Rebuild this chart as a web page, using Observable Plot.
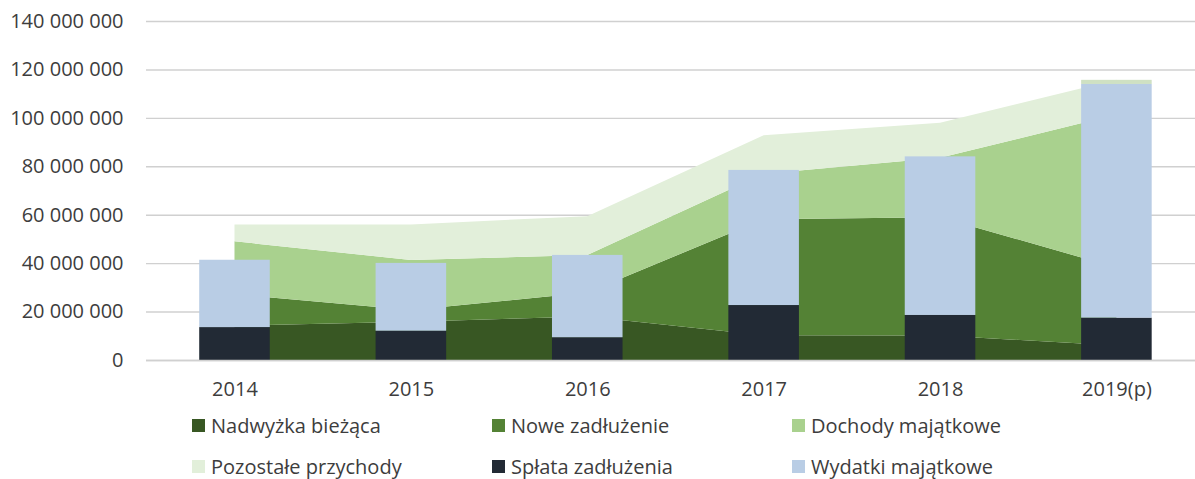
<!DOCTYPE html>
<html>
<head>
<meta charset="utf-8">
<script src="https://cdn.jsdelivr.net/npm/d3@7"></script>
<script src="https://cdn.jsdelivr.net/npm/@observablehq/plot@0.6"></script>
<style>
  body { margin: 0; background: #fff; font-family: "Open Sans", "Noto Sans", sans-serif; }
  #chart { width: 1195px; overflow: hidden; }
  .legend { display: grid; grid-template-columns: 300px 300px 300px; grid-auto-rows: 41px;
            margin-left: 192px; margin-top: 0px; font-size: 20px; color: #3d3d3d; }
  .legend div { display: flex; align-items: center; white-space: nowrap; }
  .legend span.sw { display: inline-block; width: 13px; height: 13px; margin-right: 6px; }
</style>
</head>
<body>
<div id="chart"></div>
<div class="legend" id="legend"></div>
<script>
// Categories
const years = ["2014", "2015", "2016", "2017", "2018", "2019(p)"];

// Area series (stacked), values in PLN
const nadwyzkaBiezaca   = [14.2e6, 15.8e6, 18.0e6, 10.2e6, 10.1e6, 6.0e6];
const noweZadluzenie    = [12.9e6, 4.8e6, 9.9e6, 47.9e6, 48.9e6, 32.2e6];
const dochodyMajatkowe  = [21.9e6, 20.7e6, 15.5e6, 18.8e6, 24.5e6, 63.2e6];
const pozostalePrzychody = [7.0e6, 14.7e6, 16.0e6, 15.9e6, 14.5e6, 14.3e6];

// Bar series (stacked)
const splataZadluzenia  = [13.6e6, 12.1e6, 9.4e6, 22.7e6, 18.6e6, 17.5e6];
const wydatkiMajatkowe  = [27.8e6, 28.0e6, 34.0e6, 55.8e6, 65.5e6, 96.5e6];

// Tick values
const yTicks = [0, 20e6, 40e6, 60e6, 80e6, 100e6, 120e6, 140e6];

// Series names (legend order) and colours
const areaNames = ["Nadwyżka bieżąca", "Nowe zadłużenie", "Dochody majątkowe", "Pozostałe przychody"];
const barNames = ["Spłata zadłużenia", "Wydatki majątkowe"];
const legendOrder = ["Nadwyżka bieżąca", "Nowe zadłużenie", "Dochody majątkowe",
                     "Pozostałe przychody", "Spłata zadłużenia", "Wydatki majątkowe"];
const colors = ["#385723", "#548235", "#a9d18e", "#e2efda", "#222a35", "#b9cde5"];

const areaSeries = [nadwyzkaBiezaca, noweZadluzenie, dochodyMajatkowe, pozostalePrzychody];
const barSeries = [splataZadluzenia, wydatkiMajatkowe];

const areaData = areaSeries.flatMap((vals, s) =>
  vals.map((v, i) => ({i, series: areaNames[s], value: v})));
const barData = barSeries.flatMap((vals, s) =>
  vals.map((v, i) => ({i, series: barNames[s], value: v})));

// Top of the area stack peeking above the last bar
const last = years.length - 1;
const areaTotal = areaSeries.reduce((a, s) => a + s[last], 0);
const barTotal = barSeries.reduce((a, s) => a + s[last], 0);
const stripData = areaTotal > barTotal ? [{i: last, y1: barTotal, y2: areaTotal}] : [];

const fmt = d3.formatLocale({thousands: " ", grouping: [3], decimal: ",", currency: ["", ""]}).format(",");

const half = 0.2;

const chart = Plot.plot({
  width: 1195,
  height: 405,
  marginLeft: 146,
  marginRight: 0,
  marginTop: 21,
  marginBottom: 45,
  style: {fontFamily: '"Open Sans", "Noto Sans", sans-serif', fontSize: "20px", color: "#3d3d3d", background: "#fff"},
  x: {
    domain: [-0.5, years.length - 0.5],
    range: [146.3, 1204.6],
    ticks: years.map((_, i) => i),
    tickFormat: i => years[i],
    tickSize: 0,
    tickPadding: 21,
    label: null
  },
  y: {
    domain: [0, 140e6],
    ticks: yTicks,
    tickFormat: d => fmt(d),
    tickSize: 0,
    tickPadding: 23,
    label: null
  },
  color: {domain: legendOrder, range: colors},
  marks: [
    Plot.ruleY(yTicks, {stroke: "#d0d0d0", strokeWidth: 1.4}),
    Plot.areaY(areaData, {x: "i", y: "value", fill: "series", z: "series", curve: "linear"}),
    Plot.rectY(stripData, {x1: d => d.i - half, x2: d => d.i + half, y1: "y1", y2: "y2", fill: "#cfe1c3"}),
    Plot.rectY(barData, {x1: d => d.i - half, x2: d => d.i + half, y: "value", fill: "series", z: "series"}),
    Plot.ruleY([0], {stroke: "#d0d0d0", strokeWidth: 1.4})
  ]
});
document.getElementById("chart").appendChild(chart);

const legend = document.getElementById("legend");
legendOrder.forEach((name, k) => {
  const div = document.createElement("div");
  const sw = document.createElement("span");
  sw.className = "sw";
  sw.style.background = colors[k];
  div.appendChild(sw);
  div.appendChild(document.createTextNode(name));
  legend.appendChild(div);
});
</script>
</body>
</html>
